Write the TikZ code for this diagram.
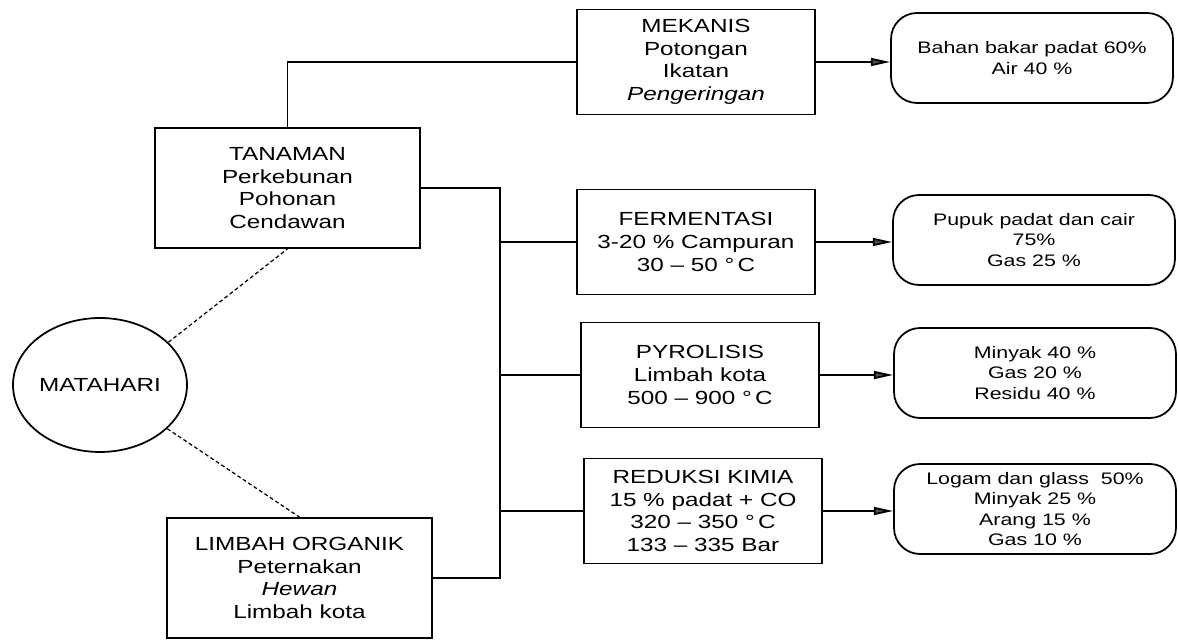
\documentclass[tikz,border=0pt]{standalone}
\usepackage{fontspec}
\setmainfont{Liberation Sans}[FakeStretch=1.28]
\usetikzlibrary{shapes.geometric,arrows.meta}
\tikzset{
  line/.style={line width=1pt, draw=black},
  procbox/.style={draw, line width=1pt, inner sep=0pt, align=center,
    font=\fontsize{10.8pt}{12.9pt}\selectfont},
  srcbox/.style={procbox, minimum width=5.3cm, minimum height=2.4cm},
  stepbox/.style={procbox, minimum width=4.76cm, minimum height=2.1cm},
  outbox/.style={draw, line width=1pt, rounded corners=0.52cm, inner sep=0pt,
    align=center, minimum width=5.64cm, minimum height=1.8cm,
    font=\fontsize{9.5pt}{11.5pt}\selectfont},
  arr/.style={line width=1pt, -{Triangle[length=11pt,width=4.5pt,fill=black!70]}},
  sunline/.style={line width=0.7pt, dash pattern=on 2.2pt off 1.5pt}
}
\begin{document}
\begin{tikzpicture}[x=0.02cm,y=-0.02cm]
\useasboundingbox (0,0) rectangle (1178,641);
% sources
\node[srcbox] (TAN) at (287.5,188) {TANAMAN\\Perkebunan\\Pohonan\\Cendawan};
\node[srcbox] (LIM) at (299.5,578) {LIMBAH ORGANIK\\Peternakan\\\itshape Hewan\\Limbah kota};
\node[draw, ellipse, line width=1pt, minimum width=3.48cm, minimum height=2.68cm, inner sep=0pt] (MAT) at (100,385) {};
\node[font=\fontsize{10.8pt}{12.9pt}\selectfont] (MATt) at (MAT.center) {MATAHARI};
% processes
\node[stepbox] (MEK) at (696,62) {MEKANIS\\Potongan\\Ikatan\\\itshape Pengeringan};
\node[stepbox] (FER) at (696,242) {FERMENTASI\\3-20 \% Campuran\\30 – 50 °\,C};
\node[stepbox] (PYR) at (700,375) {PYROLISIS\\Limbah kota\\500 – 900 °\,C};
\node[stepbox] (RED) at (703,511) {REDUKSI KIMIA\\15 \% padat + CO\\320 – 350 °\,C\\133 – 335 Bar};
% outputs
\node[outbox] (R1) at (1032,58) {Bahan bakar padat 60\%\\Air 40 \%};
\node[outbox] (R2) at (1034,240) {Pupuk padat dan cair\\75\%\\Gas 25 \%};
\node[outbox] (R3) at (1035,373) {Minyak 40 \%\\Gas 20 \%\\Residu 40 \%};
\node[outbox] (R4) at (1035,509) {Logam dan glass~~50\%\\Minyak 25 \%\\Arang 15 \%\\Gas 10 \%};
% sun links
\draw[sunline] (MAT.32) -- (TAN.south);
\draw[sunline] (MAT.-33) -- (LIM.north);
% tanaman to mekanis
\draw[line] (TAN.north) |- (MEK.west);
% bus
\coordinate (bt) at (500,188);
\coordinate (bb) at (500,578);
\draw[line] (TAN.east) -- (bt) -- (bb) -- (LIM.east);
\draw[line] (bt |- FER.west) -- (FER.west);
\draw[line] (bt |- PYR.west) -- (PYR.west);
\draw[line] (bt |- RED.west) -- (RED.west);
% arrows
\draw[arr] (MEK.east) -- (MEK.east -| R1.west);
\draw[arr] (FER.east) -- (FER.east -| R2.west);
\draw[arr] (PYR.east) -- (PYR.east -| R3.west);
\draw[arr] (RED.east) -- (RED.east -| R4.west);
\end{tikzpicture}
\end{document}
